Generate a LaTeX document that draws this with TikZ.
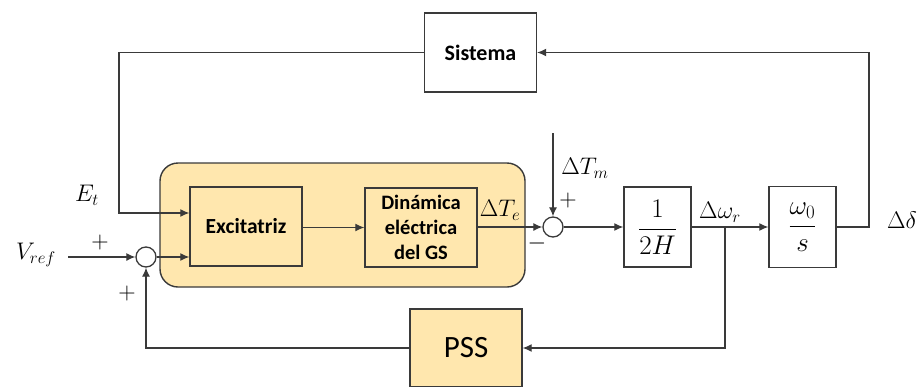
\documentclass[tikz,border=0pt]{standalone}
\usepackage{fix-cm}
\usepackage{fontspec}
\setmainfont{Carlito}
\usetikzlibrary{arrows.meta}
\definecolor{boxfill}{HTML}{FFE7AE}
\definecolor{linec}{HTML}{3A3A3A}
\tikzset{
  blk/.style={draw=linec, line width=1.4pt, minimum width=#1, inner sep=0pt, align=center},
  blk/.default=112pt,
  lbl/.style={font=\fontsize{20.5}{25}\selectfont\bfseries, align=center},
  sumc/.style={draw=linec, line width=1.3pt, circle, minimum size=20pt, inner sep=0pt},
  conn/.style={draw=linec, line width=1.2pt},
  arr/.style={conn, -{Latex[length=9pt,width=8pt]}},
  mlab/.style={font=\fontsize{24}{28}\selectfont, inner sep=0pt},
  sgn/.style={font=\fontsize{24}{28}\selectfont, inner sep=0pt},
}
\begin{document}
\begin{tikzpicture}[x=1pt,y=-1pt]
\useasboundingbox (0,0) rectangle (919,386);
\clip (0,0) rectangle (919,386);
% orange group
\node[draw=linec, line width=1.4pt, fill=boxfill, rounded corners=18pt, minimum width=365pt, minimum height=124pt, inner sep=0pt] (grp) at (342.5,225) {};
% blocks
\node[blk, minimum height=79pt] (sis) at (480.5,52.5) {\fontsize{22}{26}\selectfont\bfseries Sistema};
\node[blk, minimum height=79pt] (exc) at (246,226.5) {\fontsize{21.5}{26}\selectfont\bfseries Excitatriz};
\node[blk, minimum height=79pt, lbl] (din) at (421,227.5) {Dinámica\\eléctrica\\del GS};
\node[blk=67pt, minimum height=80pt] (hb) at (657.5,227) {\fontsize{27}{32}\selectfont$\displaystyle\frac{1}{2H}$};
\node[blk=67pt, minimum height=81pt] (wb) at (802.5,227) {\fontsize{27}{32}\selectfont$\displaystyle\frac{\omega_0}{s}$};
\node[blk, minimum height=78pt, fill=boxfill] (pss) at (466,348) {\fontsize{31}{36}\selectfont PSS};
% summing junctions
\node[sumc, fill=white] (s1) at (146,257) {};
\node[sumc, fill=white] (s2) at (553,227) {};
% helper coordinates
\coordinate (vin) at (68,257);
\coordinate (tm) at (553,133);
\coordinate (br) at (725,227);
\coordinate (c1) at (119,52.5);
\coordinate (c2) at (119,213);
\coordinate (c3) at (869,227);
\coordinate (c4) at (869,52.5);
\coordinate (c5) at (725,348);
\coordinate (c6) at (146,348);
% connectors
\draw[arr] (sis.west) -- (c1) -- (c2) -- (c2 -| exc.west);
\draw[arr] (vin) -- (s1.west);
\draw[arr] (s1.east) -- (s1.east -| exc.west);
\draw[arr] (exc.east |- din.west) -- (din.west);
\draw[arr] (din.east |- s2.west) -- (s2.west);
\draw[arr] (tm) -- (s2.north);
\draw[arr] (s2.east) -- (hb.west |- s2.east);
\draw[arr] (hb.east) -- (wb.west);
\draw[arr] (br) -- (c5) -- (pss.east);
\draw[arr] (pss.west) -- (c6) -- (s1.south);
\draw[arr] (wb.east) -- (c3) -- (c4) -- (sis.east);
% labels
\node[mlab] (et) at (87,195) {$E_t$};
\node[mlab] (vref) at (36,255) {$V_{ref}$};
\node[sgn] (p1) at (100,242) {$+$};
\node[sgn] (p2) at (127,293) {$+$};
\node[mlab] (dte) at (500,210) {$\Delta T_e$};
\node[sgn] (m1) at (537,243) {$-$};
\node[sgn] (p3) at (568,200) {$+$};
\node[mlab] (dtm) at (585,168) {$\Delta T_m$};
\node[mlab] (dwr) at (720,212) {$\Delta\omega_r$};
\node[mlab] (dd) at (902,220) {$\Delta\delta$};
\end{tikzpicture}
\end{document}
